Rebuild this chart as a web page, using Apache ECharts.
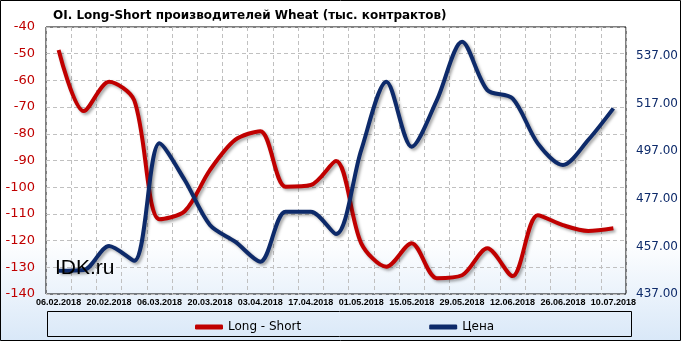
<!DOCTYPE html>
<html><head><meta charset="utf-8">
<script src="https://cdn.jsdelivr.net/npm/echarts@6/dist/echarts.min.js"></script>
<style>html,body{margin:0;padding:0;background:#fff}#c{width:681px;height:341px}</style>
</head><body><div id="c"></div>
<script>
const categories = ["06.02.2018","13.02.2018","20.02.2018","27.02.2018","06.03.2018","13.03.2018","20.03.2018","27.03.2018","03.04.2018","10.04.2018","17.04.2018","24.04.2018","01.05.2018","08.05.2018","15.05.2018","22.05.2018","29.05.2018","05.06.2018","12.06.2018","19.06.2018","26.06.2018","03.07.2018","10.07.2018"];
const longShort = [-48.6,-71.5,-60.5,-67.5,-112,-109,-93.6,-82.3,-79,-99.8,-99.2,-90.2,-121,-129.8,-121,-134.1,-133,-122.9,-133.3,-110.5,-114.2,-116.4,-115.4];
const price = [446.8,447.1,457.2,451,500.3,484.9,466,459,450.6,471.6,471.6,462.2,497.5,526.2,498.9,518.5,543,522.7,519.2,500.3,491.2,501.7,515];
const leftTicks = {min:-140, max:-40, interval:10};
const rightTicks = {min:437, max:549.2, interval:20};

const chart = echarts.init(document.getElementById('c'));
const font = '"DejaVu Sans", Verdana, sans-serif';
chart.setOption({
  backgroundColor: {type:'linear', x:0, y:0, x2:0, y2:1, colorStops:[{offset:0,color:'#ffffff'},{offset:0.7,color:'#ffffff'},{offset:1,color:'#d9e8f8'}]},
  animation:false,
  title:{text:'OI. Long-Short производителей Wheat (тыс. контрактов)', left:48, top:5, textStyle:{fontFamily:font, fontSize:12, fontWeight:'bold', color:'#000'}},
  grid:{left:46, right:55, top:27, bottom:47, show:true, borderColor:'#000', borderWidth:1, backgroundColor:'transparent'},
  legend:{left:190, top:316, itemGap:128, itemWidth:28, itemHeight:5, icon:'roundRect', textStyle:{fontFamily:font, fontSize:12, color:'#000'},
    data:['Long - Short','Цена']},
  graphic:[
    {type:'rect', shape:{x:47.5, y:311.5, width:584, height:25}, style:{fill:'transparent', stroke:'#000', lineWidth:1}, z:-1, silent:true},
    {type:'rect', shape:{x:0.5, y:0.5, width:680, height:340}, style:{fill:'transparent', stroke:'#000', lineWidth:1}, silent:true},
    {type:'text', left:55, top:258, style:{text:'IDK.ru', font:'21px "Liberation Sans", Arial, sans-serif', fill:'#000'}, z:10}
  ],
  xAxis:{type:'category', data:categories, boundaryGap:true,
    axisLine:{show:false}, axisTick:{show:false},
    axisLabel:{interval:1, hideOverlap:false, showMinLabel:true, showMaxLabel:true, fontFamily:'"Liberation Sans", Arial, sans-serif', fontSize:9, fontWeight:'bold', color:'#000', margin:4},
    splitLine:{show:true, interval:0, lineStyle:{color:'#c0c0c0', type:[4,3], width:1}}},
  yAxis:[
    {type:'value', min:leftTicks.min, max:leftTicks.max, interval:leftTicks.interval, position:'left',
      axisLine:{show:false}, axisTick:{show:false},
      axisLabel:{fontFamily:font, fontSize:13, color:'#c00000', margin:11},
      splitLine:{show:true, lineStyle:{color:'#c0c0c0', type:[4,3], width:1}}},
    {type:'value', min:rightTicks.min, max:rightTicks.max, interval:rightTicks.interval, position:'right',
      axisLine:{show:false}, axisTick:{show:false},
      axisLabel:{fontFamily:font, fontSize:12, color:'#0d2a6a', margin:10, showMaxLabel:false, formatter:v=>v.toFixed(2)},
      splitLine:{show:false}}
  ],
  series:[
    {name:'Long - Short', type:'line', data:longShort, yAxisIndex:0, smooth:0.3, symbol:'none',
      itemStyle:{color:'#c00000'},
      lineStyle:{color:'#c00000', width:4, shadowColor:'rgba(0,0,0,0.35)', shadowBlur:3, shadowOffsetX:2, shadowOffsetY:2}},
    {name:'Цена', type:'line', data:price, yAxisIndex:1, smooth:0.3, symbol:'none',
      itemStyle:{color:'#0d2a6a'},
      lineStyle:{color:'#0d2a6a', width:4, shadowColor:'rgba(0,0,0,0.35)', shadowBlur:3, shadowOffsetX:2, shadowOffsetY:2}}
  ]
});
</script></body></html>
